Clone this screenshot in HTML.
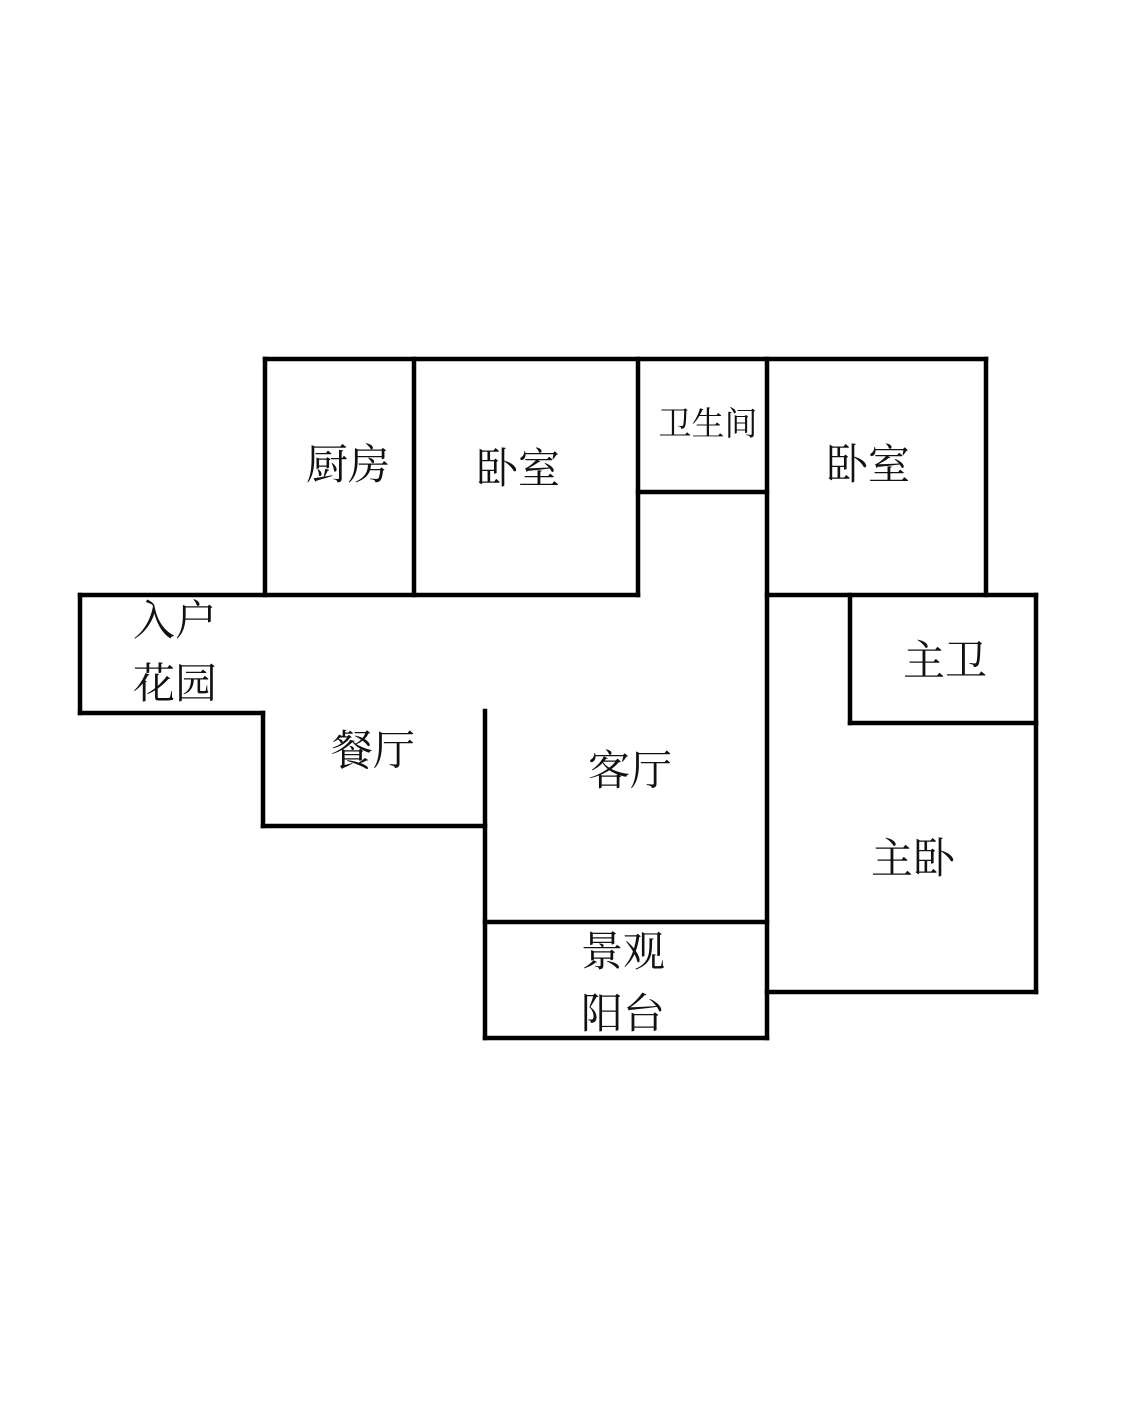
<!DOCTYPE html>
<html><head><meta charset="utf-8"><style>
html,body{margin:0;padding:0;background:#fff;}
svg{display:block;}
text{font-family:"Liberation Serif","Noto Serif CJK SC","Noto Sans CJK SC",serif;font-size:42px;fill:#111;text-anchor:middle;dominant-baseline:central;}
</style></head><body>
<svg width="1125" height="1409" viewBox="0 0 1125 1409" xmlns="http://www.w3.org/2000/svg">
<g stroke="#000" stroke-width="4.5" fill="none" stroke-linecap="square">
<line x1="265" y1="359" x2="986" y2="359"/>
<line x1="265" y1="359" x2="265" y2="595"/>
<line x1="414" y1="359" x2="414" y2="595"/>
<line x1="638" y1="359" x2="638" y2="595"/>
<line x1="767" y1="359" x2="767" y2="1038"/>
<line x1="986" y1="359" x2="986" y2="595"/>
<line x1="638" y1="492" x2="767" y2="492"/>
<line x1="80" y1="595" x2="638" y2="595"/>
<line x1="767" y1="595" x2="1036" y2="595"/>
<line x1="80" y1="595" x2="80" y2="713"/>
<line x1="80" y1="713" x2="263" y2="713"/>
<line x1="263" y1="713" x2="263" y2="826"/>
<line x1="263" y1="826" x2="485" y2="826"/>
<line x1="485" y1="711" x2="485" y2="1038"/>
<line x1="485" y1="922" x2="767" y2="922"/>
<line x1="485" y1="1038" x2="767" y2="1038"/>
<line x1="1036" y1="595" x2="1036" y2="992"/>
<line x1="767" y1="992" x2="1036" y2="992"/>
<line x1="850" y1="595" x2="850" y2="723"/>
<line x1="850" y1="723" x2="1036" y2="723"/>
</g>
<text x="348" y="466">厨房</text>
<text x="518" y="470">卧室</text>
<text x="708" y="425" style="font-size:33px">卫生间</text>
<text x="868" y="466">卧室</text>
<text x="175" y="622">入户</text>
<text x="175" y="685">花园</text>
<text x="373" y="752">餐厅</text>
<text x="630" y="772">客厅</text>
<text x="945" y="662">主卫</text>
<text x="913" y="860">主卧</text>
<text x="623" y="953">景观</text>
<text x="623" y="1015">阳台</text>
</svg>
</body></html>
